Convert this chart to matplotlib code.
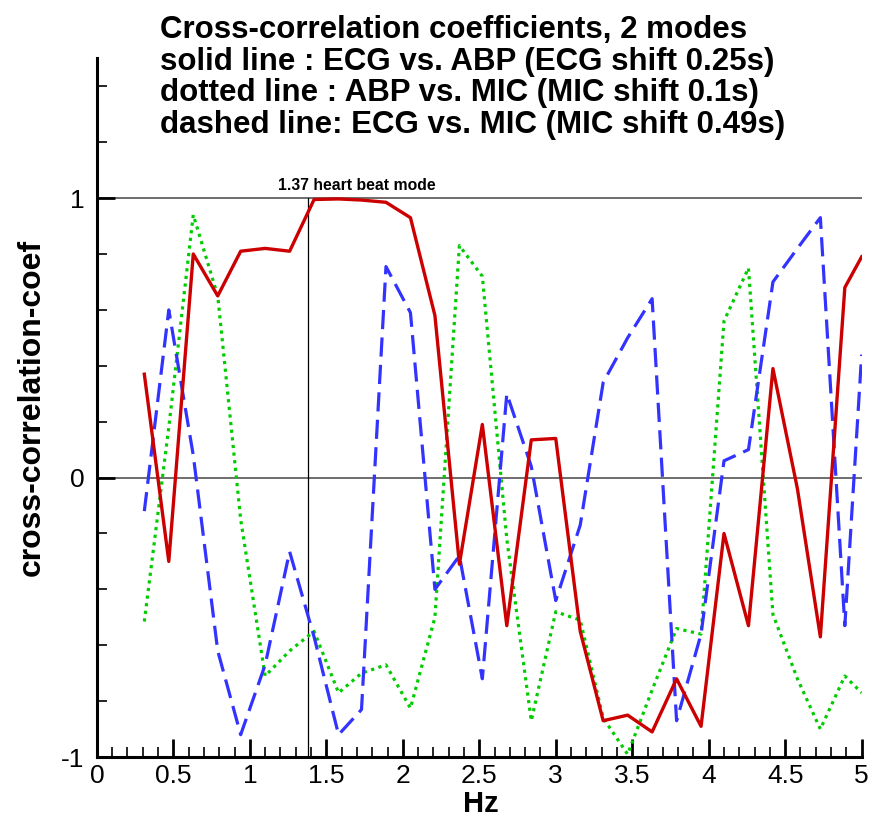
import numpy
import matplotlib
matplotlib.use("Agg")
import matplotlib.pyplot as plt
from matplotlib.ticker import MultipleLocator

plt.rcParams['font.family'] = ['Liberation Sans', 'DejaVu Sans']

# frequency grid (Hz)
freq = [0.31, 0.47, 0.63, 0.79, 0.94, 1.10, 1.26, 1.42, 1.58, 1.73,
        1.89, 2.05, 2.21, 2.37, 2.52, 2.68, 2.84, 3.00, 3.16, 3.31,
        3.47, 3.63, 3.79, 3.95, 4.10, 4.26, 4.42, 4.58, 4.73, 4.89, 5.00]

# solid line : ECG vs. ABP
ecg_abp = [0.37, -0.30, 0.80, 0.65, 0.81, 0.82, 0.81, 0.995, 0.997, 0.993,
           0.985, 0.93, 0.58, -0.31, 0.19, -0.53, 0.135, 0.14, -0.55, -0.87,
           -0.85, -0.91, -0.72, -0.89, -0.20, -0.53, 0.39, -0.04, -0.57, 0.68, 0.79]

# dotted line : ABP vs. MIC
abp_mic = [-0.515, 0.18, 0.94, 0.65, -0.15, -0.71, -0.62, -0.55, -0.77, -0.70,
           -0.67, -0.825, -0.50, 0.83, 0.72, -0.22, -0.87, -0.48, -0.51, -0.86,
           -0.99, -0.76, -0.54, -0.56, 0.56, 0.75, -0.49, -0.72, -0.90, -0.71, -0.77]

# dashed line: ECG vs. MIC
ecg_mic = [-0.12, 0.60, 0.08, -0.62, -0.92, -0.67, -0.265, -0.57, -0.92, -0.83,
           0.755, 0.59, -0.40, -0.28, -0.72, 0.30, 0.04, -0.44, -0.17, 0.34,
           0.50, 0.64, -0.87, -0.56, 0.06, 0.10, 0.70, 0.82, 0.93, -0.53, 0.44]

heart_mode = 1.38
title_lines = ["Cross-correlation coefficients, 2 modes",
               "solid line : ECG vs. ABP (ECG shift 0.25s)",
               "dotted line : ABP vs. MIC (MIC shift 0.1s)",
               "dashed line: ECG vs. MIC (MIC shift 0.49s)"]

fig = plt.figure(figsize=(8.73, 8.22), dpi=100)
ax = fig.add_axes([0.111, 0.079, 0.876, 0.850])

# reference lines
ax.plot([0, 5], [1, 1], '-', color='#555555', lw=1.2, zorder=1)
ax.plot([0, 5], [0, 0], '-', color='#555555', lw=1.2, zorder=1)
ax.plot([heart_mode, heart_mode], [-1, 1], '-', color='black', lw=0.9, zorder=1)
ax.text(1.185, 1.03, "1.37 heart beat mode", fontsize=11.3, fontweight='bold')

ax.plot(freq, abp_mic, color='#00cc00', lw=2.3, linestyle=(0, (1, 1.4)), zorder=3)
ax.plot(freq, ecg_mic, color='#3333ff', lw=2.3, linestyle=(0, (6, 2.6)), zorder=3)
ax.plot(freq, ecg_abp, color='#cc0000', lw=2.4, zorder=4)

ax.set_xlim(0, 5)
ax.set_ylim(-1, 1.5)
ax.set_xticks(numpy.arange(0, 5.01, 0.5))
ax.set_xticklabels(["0", "0.5", "1", "1.5", "2", "2.5", "3", "3.5", "4", "4.5", "5"])
ax.xaxis.set_minor_locator(MultipleLocator(0.1))
ax.set_yticks([-1, 0, 1])
ax.set_yticklabels(["-1", "0", "1"])
ax.yaxis.set_minor_locator(MultipleLocator(0.2))

ax.tick_params(axis='both', which='major', direction='in', length=13, width=2,
               labelsize=19)
ax.tick_params(axis='both', which='minor', direction='in', length=7, width=1.2)
ax.tick_params(axis='x', which='major', pad=5)
ax.tick_params(axis='y', which='major', pad=9)

ax.spines["top"].set_visible(False)
ax.spines["right"].set_visible(False)
ax.spines["left"].set_linewidth(2.2)
ax.spines["bottom"].set_linewidth(2.2)

ax.set_xlabel("Hz", fontsize=21, fontweight='bold')
ax.xaxis.set_label_coords(0.502, -0.047)
ax.set_ylabel("cross-correlation-coef", fontsize=23, fontweight='bold')
ax.yaxis.set_label_coords(-0.066, 0.50)

fig.text(160 / 873, 1 - 15 / 822, "\n".join(title_lines), fontsize=22.5,
         fontweight='bold', va='top', ha='left', linespacing=1.07)

plt.savefig("out.png", dpi=100)
